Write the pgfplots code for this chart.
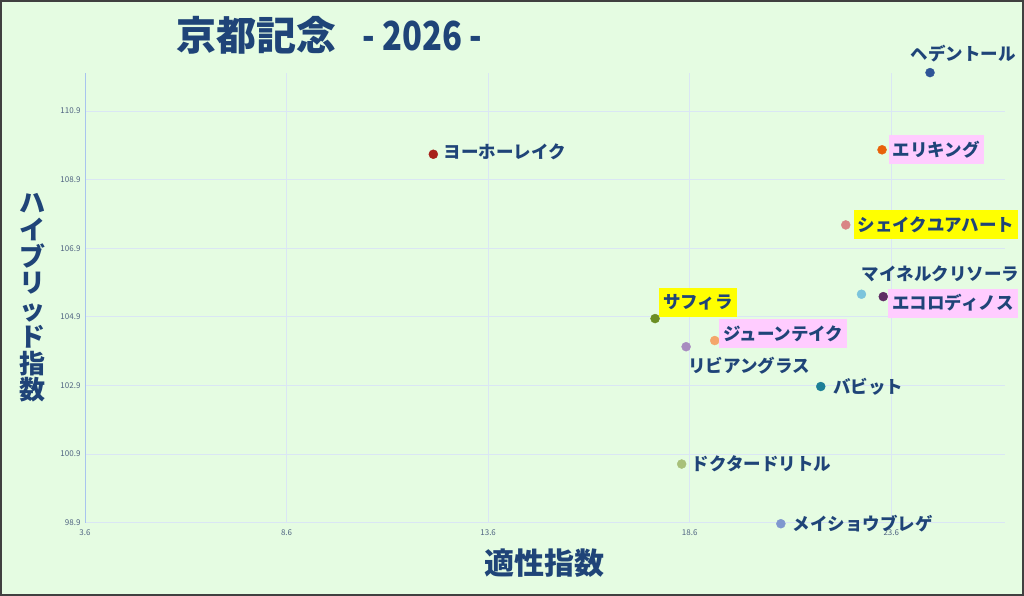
\documentclass[border=0pt]{standalone}
\usepackage{fontspec}
\usepackage{graphicx}
\usepackage{pgfplots}
\pgfplotsset{compat=1.18}
\setmainfont{Noto Sans CJK JP}

\definecolor{bgc}{RGB}{229,252,226}
\definecolor{framec}{RGB}{64,64,64}
\definecolor{navy}{RGB}{31,68,120}
\definecolor{gridc}{RGB}{218,230,244}
\definecolor{axisc}{RGB}{168,196,238}
\definecolor{tickc}{RGB}{80,100,130}
\definecolor{pinkbg}{RGB}{255,204,255}
\definecolor{yellowbg}{RGB}{255,255,0}
% point colours
\definecolor{cHed}{HTML}{2F5597}
\definecolor{cEri}{HTML}{E8620A}
\definecolor{cShe}{HTML}{D98585}
\definecolor{cYoh}{HTML}{A8201A}
\definecolor{cMai}{HTML}{7CC4DC}
\definecolor{cEco}{HTML}{5E2C64}
\definecolor{cSaf}{HTML}{6B8E23}
\definecolor{cJun}{HTML}{F4A66A}
\definecolor{cLib}{HTML}{A88BC0}
\definecolor{cBab}{HTML}{1D7F97}
\definecolor{cDoc}{HTML}{A8C07A}
\definecolor{cMei}{HTML}{7F97CF}

\newcommand{\lblfont}{\fontsize{17.5}{18}\selectfont\bfseries}

\tikzset{
  lbl/.style={anchor=west, font=\lblfont, text=navy, inner sep=0pt},
  boxlbl/.style={lbl, inner xsep=4pt, inner ysep=0pt, minimum height=29pt, fill=#1},
}
\pgfplotsset{
  horse/.style 2 args={only marks, mark=*, mark size=4.5pt,
    draw=#1, fill=#1, nodes near coords={#2}},
}

\begin{document}
\begin{tikzpicture}
\useasboundingbox (0,0) rectangle (1024pt,596pt);
\fill[bgc] (0,0) rectangle (1024pt,596pt);
\draw[framec, line width=2pt] (1pt,1pt) rectangle (1023pt,595pt);

\node[anchor=west, inner sep=0pt, text=navy, font=\fontsize{40}{42}\selectfont\bfseries]
  at (176pt,561pt) {京都記念\hspace{26pt}\scalebox{0.82}[1]{- 2026 -}};
\node[text=navy, font=\fontsize{30}{32}\selectfont\bfseries]
  at (544pt,33pt) {適性指数};
\node[text=navy, align=center, inner sep=0pt, font=\fontsize{26}{26.7}\selectfont\bfseries]
  at (32pt,298pt) {ハ\\イ\\ブ\\リ\\ッ\\ド\\指\\数};

\begin{axis}[
    at={(85pt,73.3pt)}, anchor=south west,
    scale only axis,
    width=920pt, height=449.4pt,
    xmin=3.6, xmax=26.42,
    ymin=98.9, ymax=112.0,
    clip=false,
    axis x line*=bottom, axis y line*=left,
    x axis line style={draw=gridc, line width=0.8pt, -},
    y axis line style={draw=axisc, line width=0.8pt, -},
    xtick={3.6,8.6,13.6,18.6,23.6},
    xticklabels={3.6,8.6,13.6,18.6,23.6},
    ytick={98.9,100.9,102.9,104.9,106.9,108.9,110.9},
    yticklabels={98.9,100.9,102.9,104.9,106.9,108.9,110.9},
    major tick length=0pt,
    grid=major,
    major grid style={draw=gridc, line width=0.8pt},
    tick label style={font=\fontsize{8}{9}\selectfont, text=tickc},
    xticklabel style={yshift=-3pt},
    yticklabel style={xshift=-1pt},
]
\addplot[horse={cHed}{ヘデントール}, nodes near coords style={lbl, xshift=-19.3pt, yshift=19pt}]
  coordinates {(24.56,112.02)};
\addplot[horse={cEri}{エリキング}, nodes near coords style={boxlbl=pinkbg, xshift=6.7pt}]
  coordinates {(23.37,109.77)};
\addplot[horse={cShe}{シェイクユアハート}, nodes near coords style={boxlbl=yellowbg, xshift=7.6pt}]
  coordinates {(22.47,107.58)};
\addplot[horse={cYoh}{ヨーホーレイク}, nodes near coords style={lbl, xshift=10pt, yshift=2pt}]
  coordinates {(12.24,109.64)};
\addplot[horse={cMai}{マイネルクリソーラ}, nodes near coords style={lbl, xshift=0pt, yshift=20pt}]
  coordinates {(22.86,105.56)};
\addplot[horse={cEco}{エコロディノス}, nodes near coords style={boxlbl=pinkbg, xshift=5pt, yshift=-6.5pt}]
  coordinates {(23.40,105.49)};
\addplot[horse={cSaf}{サフィラ}, nodes near coords style={boxlbl=yellowbg, xshift=4pt, yshift=16.3pt}]
  coordinates {(17.74,104.85)};
\addplot[horse={cJun}{ジューンテイク}, nodes near coords style={boxlbl=pinkbg, xshift=4.3pt, yshift=6.7pt}]
  coordinates {(19.22,104.21)};
\addplot[horse={cLib}{リビアングラス}, nodes near coords style={lbl, xshift=2pt, yshift=-18.7pt}]
  coordinates {(18.51,104.03)};
\addplot[horse={cBab}{バビット}, nodes near coords style={lbl, xshift=12.3pt}]
  coordinates {(21.85,102.87)};
\addplot[horse={cDoc}{ドクタードリトル}, nodes near coords style={lbl, xshift=10pt}]
  coordinates {(18.40,100.61)};
\addplot[horse={cMei}{メイショウブレゲ}, nodes near coords style={lbl, xshift=11.7pt}]
  coordinates {(20.86,98.87)};
\end{axis}
\end{tikzpicture}
\end{document}
